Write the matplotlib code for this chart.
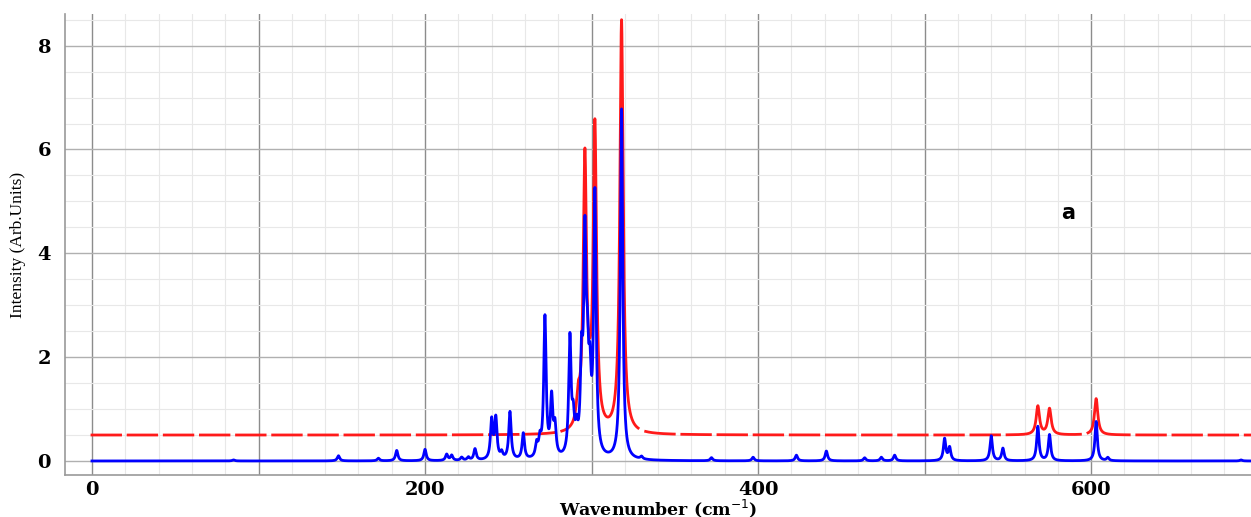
import numpy as np
import matplotlib
matplotlib.use("Agg")
import matplotlib.pyplot as plt
from matplotlib.ticker import MultipleLocator, FuncFormatter

# blue spectrum: peak positions (cm-1) and heights
blue_pos = [85, 148, 172, 183, 200, 213, 216, 222, 226, 230, 240, 242.5, 246,
            251, 259, 267, 269, 272, 276, 278, 287, 289, 291, 294, 296, 297.5,
            299, 302, 318, 330, 372, 397, 423, 441, 464, 474, 482, 512, 515,
            540, 547, 568, 575, 603, 610, 690]
blue_amp = [0.02, 0.1, 0.05, 0.2, 0.22, 0.12, 0.1, 0.06, 0.06, 0.22, 0.75, 0.78, 0.12,
            0.92, 0.5, 0.25, 0.3, 2.7, 1.1, 0.55, 2.25, 0.6, 0.4, 1.6, 3.9, 1.4,
            1.2, 5.0, 6.75, 0.05, 0.06, 0.07, 0.11, 0.19, 0.06, 0.07, 0.11, 0.42, 0.25,
            0.48, 0.24, 0.66, 0.5, 0.76, 0.06, 0.02]
blue_wid = 0.85

# red spectrum (offset by 0.5)
red_pos = [292, 296, 299, 302, 318, 568, 575, 603]
red_amp = [0.5, 5.2, 0.3, 5.8, 7.95, 0.55, 0.5, 0.7]
red_wid = 1.2
red_offset = 0.5

# red dash pattern along x (cm-1): (from, to, first dash start); None = solid
dash_runs = [(0, 286, 0.0), (286, 326, None), (326, 563, 332.5),
             (563, 580, None), (580, 599, 576.4), (599, 608, None),
             (608, 700, 605.7)]
dash_on = 17.2
dash_period = 21.7


def broaden(x, pos, amp, w):
    y = np.zeros_like(x)
    for p, a in zip(pos, amp):
        y += a * w**2 / ((x - p) ** 2 + w**2)
    return y


x = np.linspace(0, 700, 28001)
y_blue = broaden(x, blue_pos, blue_amp, blue_wid)
y_red = broaden(x, red_pos, red_amp, red_wid) + red_offset

show = np.zeros_like(x, dtype=bool)
for lo, hi, start in dash_runs:
    sel = (x >= lo) & (x <= hi)
    if start is None:
        show |= sel
    else:
        show |= sel & (((x - start) % dash_period) < dash_on)
y_red_dashed = np.where(show, y_red, np.nan)

fig = plt.figure(figsize=(12.51, 5.17), dpi=100)
ax = fig.add_axes([65 / 1251, 42 / 517, 1 - 65 / 1251, 461 / 517])

ax.plot(x, y_red_dashed, color="#ff1a1a", lw=2, zorder=2)
ax.plot(x, y_blue, color="#0000ff", lw=2, zorder=3)

ax.set_xlim(-16.2, 696)
ax.set_ylim(-0.27, 8.61)

ax.xaxis.set_major_locator(MultipleLocator(100))
ax.xaxis.set_minor_locator(MultipleLocator(20))
ax.xaxis.set_major_formatter(FuncFormatter(lambda v, _: "%d" % v if v % 200 == 0 else ""))
ax.yaxis.set_major_locator(MultipleLocator(2))
ax.yaxis.set_minor_locator(MultipleLocator(0.5))

ax.grid(which="major", axis="x", color="#8c8c8c", lw=1.0)
ax.grid(which="major", axis="y", color="#b0b0b0", lw=1.0)
ax.grid(which="minor", color="#e8e8e8", lw=0.8)
ax.set_axisbelow(True)

for s in ["top", "right"]:
    ax.spines[s].set_visible(False)
for s in ["left", "bottom"]:
    ax.spines[s].set_color("#9a9a9a")
    ax.spines[s].set_linewidth(1.2)

ax.tick_params(which="both", length=0)
ax.tick_params(axis="x", pad=4)
ax.tick_params(axis="y", pad=10)
for lab in ax.get_xticklabels() + ax.get_yticklabels():
    lab.set_fontfamily("DejaVu Serif")
    lab.set_fontweight("bold")
    lab.set_fontsize(14)

ax.set_xlabel("Wavenumber (cm$^{-1}$)", family="DejaVu Serif", weight="bold",
              fontsize=12.5, labelpad=-1)
ax.set_ylabel("Intensity (Arb.Units)", family="Liberation Serif", fontsize=12.5,
              labelpad=8)

ax.text(586, 4.78, "a", family="DejaVu Sans", weight="heavy", fontsize=15,
        ha="center", va="center")

fig.savefig("out.png", dpi=100)
